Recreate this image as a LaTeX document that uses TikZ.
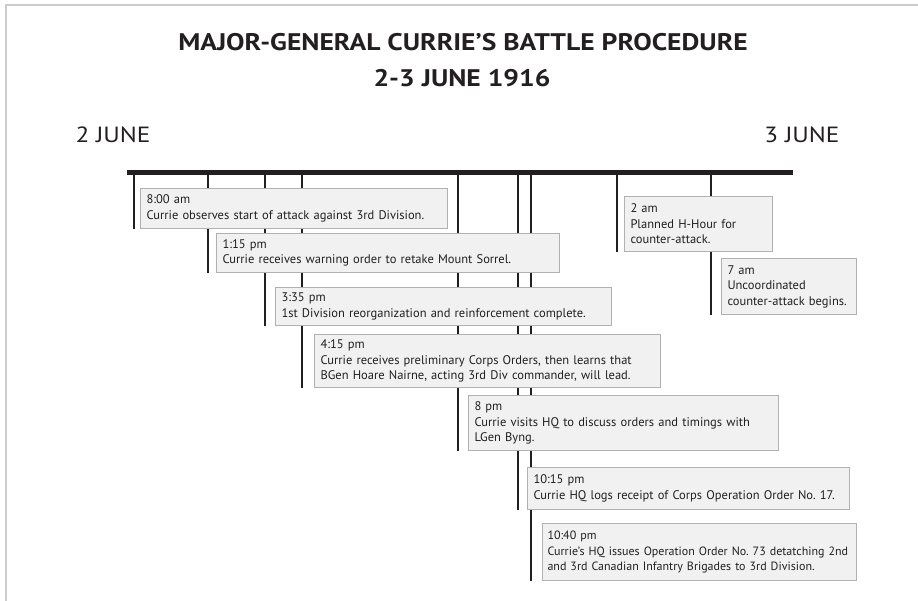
\documentclass[tikz,border=0pt]{standalone}
\usepackage{fontspec}
\setmainfont{PT Sans}
\newfontfamily\titlefont[FakeStretch=1.15]{PT Sans}
\usepackage{tikz}
\usetikzlibrary{positioning,backgrounds}
\definecolor{boxfill}{RGB}{240,241,240}
\definecolor{boxline}{RGB}{176,178,176}
\definecolor{framegray}{RGB}{204,204,204}
\definecolor{inkblack}{RGB}{35,31,32}
\frenchspacing

\begin{document}
\begin{tikzpicture}[
    x=1pt, y=-1pt,
    event/.style={draw=boxline, fill=boxfill, line width=1pt,
        anchor=north west, align=left, inner xsep=6pt, inner ysep=0pt,
        font=\fontsize{12.5}{15.5}\selectfont, text=inkblack},
    tickline/.style={inkblack, line width=2pt},
    heading/.style={font=\titlefont\fontsize{24}{28}\selectfont\bfseries, text=inkblack},
    daylabel/.style={font=\titlefont\fontsize{22}{26}\selectfont, text=inkblack},
]
\useasboundingbox (0,0) rectangle (918,601);

% === Title ===
\node[heading] (title) at (463,42) {MAJOR-GENERAL CURRIE’S BATTLE PROCEDURE};
\node[heading] (dates) at (462,78) {2-3 JUNE 1916};

\node[daylabel, anchor=west] (day2) at (72,135) {2 JUNE};
\node[daylabel, anchor=east] (day3) at (843,135) {3 JUNE};

% === Time bar ===
\coordinate (barL) at (127,173);
\coordinate (barR) at (793,173);
\draw[inkblack, line width=5pt] (barL) -- (barR);

% === Events, 2 June ===
\node[event, text width=295pt, minimum height=40pt] (e0800) at (140,188)
    {8:00 am\\Currie observes start of attack against 3rd Division.};
\node[event, text width=331pt, minimum height=39pt] (e1315) at (216,233)
    {1:15 pm\\Currie receives warning order to retake Mount Sorrel.};
\node[event, text width=324pt, minimum height=38pt] (e1535) at (275,287)
    {3:35 pm\\1st Division reorganization and reinforcement complete.};
\node[event, text width=334pt, minimum height=53pt] (e1615) at (314,334)
    {4:15 pm\\Currie receives preliminary Corps Orders, then learns that\\BGen Hoare Nairne, acting 3rd Div commander, will lead.};
\node[event, text width=298pt, minimum height=55pt] (e2000) at (468,395)
    {8 pm\\Currie visits HQ to discuss orders and timings with\\LGen Byng.};
\node[event, text width=310pt, minimum height=42pt] (e2215) at (527,467)
    {10:15 pm\\Currie HQ logs receipt of Corps Operation Order No. 17.};
\node[event, text width=304pt, minimum height=57pt, inner xsep=5pt,
    font=\fontsize{12}{15.5}\selectfont] (e2240) at (542,523)
    {10:40 pm\\Currie’s HQ issues Operation Order No. 73 detatching 2nd\\and 3rd Canadian Infantry Brigades to 3rd Division.};

% === Events, 3 June ===
\node[event, text width=136pt, minimum height=55pt] (e0200) at (624,196)
    {2 am\\Planned H-Hour for\\counter-attack.};
\node[event, text width=123pt, minimum height=56pt] (e0700) at (721,258)
    {7 am\\Uncoordinated\\counter-attack begins.};

% === Ticks (behind the boxes) ===
\coordinate (t0800) at (134,173);
\coordinate (t1315) at (208,173);
\coordinate (t1535) at (265,173);
\coordinate (t1615) at (302,173);
\coordinate (t2000) at (458,173);
\coordinate (t2215) at (518,173);
\coordinate (t2240) at (531,173);
\coordinate (t0200) at (617,173);
\coordinate (t0700) at (711,173);

\begin{scope}[on background layer]
\draw[framegray, line width=1.5pt] (6,601) -- (6,5) -- (918,5);
\foreach \ev in {0800,1315,1535,1615,2000,2215,2240,0200,0700}
    \draw[tickline] (t\ev) -- (t\ev |- e\ev.south);
\end{scope}

\end{tikzpicture}
\end{document}
